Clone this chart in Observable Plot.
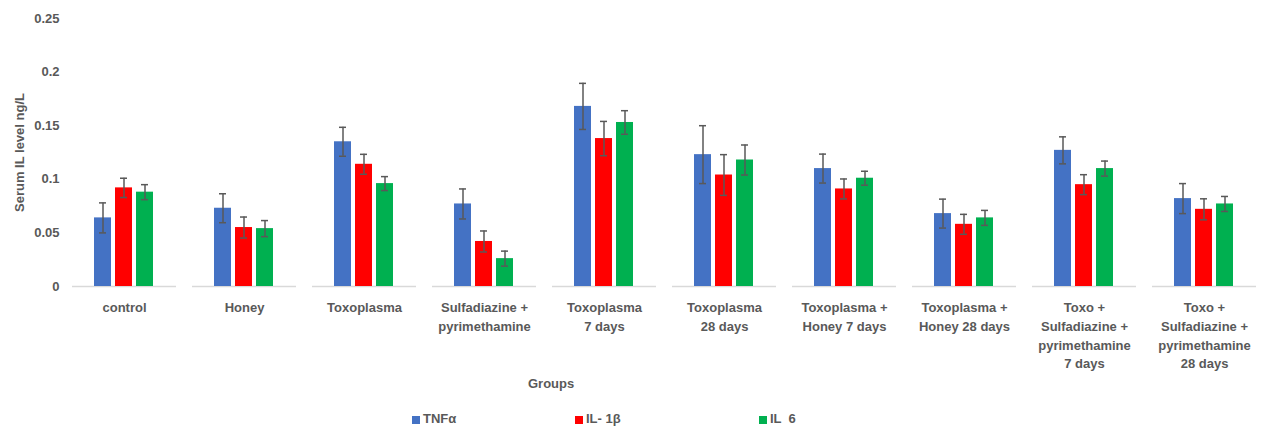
<!DOCTYPE html>
<html>
<head>
<meta charset="utf-8">
<script src="https://cdn.jsdelivr.net/npm/d3@7"></script>
<script src="https://cdn.jsdelivr.net/npm/@observablehq/plot@0.6"></script>
<style>
  html, body { margin: 0; padding: 0; background: #fff; }
  #wrap { position: relative; width: 1272px; height: 428px; font-family: "Liberation Sans", Arial, sans-serif; font-weight: bold; color: #595959; }
  .abs { position: absolute; font-size: 12px; white-space: pre; }
  .sw { position: absolute; width: 8px; height: 8px; }
</style>
</head>
<body>
<div id="wrap"></div>
<script>
const groups = [
  "control",
  "Honey",
  "Toxoplasma",
  "Sulfadiazine +\npyrimethamine",
  "Toxoplasma\n7 days",
  "Toxoplasma\n28 days",
  "Toxoplasma +\nHoney 7 days",
  "Toxoplasma +\nHoney 28 days",
  "Toxo +\nSulfadiazine +\npyrimethamine\n7 days",
  "Toxo +\nSulfadiazine +\npyrimethamine\n28 days"
];
const series = ["TNFα", "IL- 1β", "IL  6"];
const colors = ["#4472C4", "#FF0000", "#00B050"];
const tnf     = [0.064, 0.073, 0.135, 0.077, 0.168, 0.123, 0.110, 0.068, 0.127, 0.082];
const il1b    = [0.092, 0.055, 0.114, 0.042, 0.138, 0.104, 0.091, 0.058, 0.095, 0.072];
const il6     = [0.088, 0.054, 0.096, 0.026, 0.153, 0.118, 0.101, 0.064, 0.110, 0.077];
const tnfErr  = [0.014, 0.0135, 0.0135, 0.014, 0.0215, 0.027, 0.0135, 0.0135, 0.0126, 0.014];
const il1bErr = [0.009, 0.0098, 0.0093, 0.0098, 0.016, 0.019, 0.0093, 0.0093, 0.0093, 0.0098];
const il6Err  = [0.007, 0.0075, 0.0065, 0.007, 0.011, 0.014, 0.0065, 0.007, 0.007, 0.007];
const yTicks  = [0, 0.05, 0.1, 0.15, 0.2, 0.25];

const vals = [tnf, il1b, il6];
const errs = [tnfErr, il1bErr, il6Err];
const data = [];
groups.forEach((g, i) => series.forEach((s, j) => {
  data.push({group: g, series: s, value: vals[j][i], lo: vals[j][i] - errs[j][i], hi: vals[j][i] + errs[j][i]});
}));

const chart = Plot.plot({
  width: 1272,
  height: 428,
  marginLeft: 63,
  marginRight: 8,
  marginTop: 18,
  marginBottom: 142,
  style: {fontFamily: "Liberation Sans, Arial, sans-serif", fontSize: "12px", fontWeight: "bold", color: "#595959", background: "#fff"},
  fx: {domain: groups, paddingInner: 0.47, paddingOuter: 0.236, label: null, axis: null},
  x: {domain: series, paddingInner: 0.18, paddingOuter: 0.1, axis: null},
  y: {domain: [0, 0.25], axis: null},
  color: {domain: series, range: colors},
  marks: [
    Plot.ruleY([0], {stroke: "#d9d9d9", strokeWidth: 1.5, insetLeft: -20, insetRight: -20}),
    Plot.barY(data, {fx: "group", x: "series", y: "value", fill: "series"}),
    Plot.ruleX(data, {fx: "group", x: "series", y1: "lo", y2: "hi", stroke: "#595959", strokeWidth: 1.5}),
    Plot.tickY(data, {fx: "group", x: "series", y: "lo", stroke: "#595959", strokeWidth: 1.5, insetLeft: 5, insetRight: 5}),
    Plot.tickY(data, {fx: "group", x: "series", y: "hi", stroke: "#595959", strokeWidth: 1.5, insetLeft: 5, insetRight: 5}),
    Plot.axisY({ticks: yTicks, tickSize: 0, tickPadding: 33, tickFormat: d => String(d), fontSize: 13,
                label: "Serum IL level ng/L", labelArrow: "none", labelAnchor: "center", labelOffset: 78}),
    Plot.axisFx({anchor: "bottom", tickSize: 0, tickPadding: 12, lineHeight: 1.45, fontSize: 13, label: null})
  ]
});

const wrap = document.getElementById("wrap");
wrap.appendChild(chart);

function addText(txt, left, top, extra) {
  const d = document.createElement("div");
  d.className = "abs";
  d.textContent = txt;
  d.style.left = left + "px";
  d.style.top = top + "px";
  if (extra) Object.assign(d.style, extra);
  wrap.appendChild(d);
}
addText("Groups", 528, 376, {fontSize: "13px"});
const legendX = [412, 575, 759];
series.forEach((s, j) => {
  const sw = document.createElement("div");
  sw.className = "sw";
  sw.style.left = legendX[j] + "px";
  sw.style.top = "416px";
  sw.style.background = colors[j];
  wrap.appendChild(sw);
  addText(s, legendX[j] + 11, 411, {fontSize: "13px"});
});
</script>
</body>
</html>
